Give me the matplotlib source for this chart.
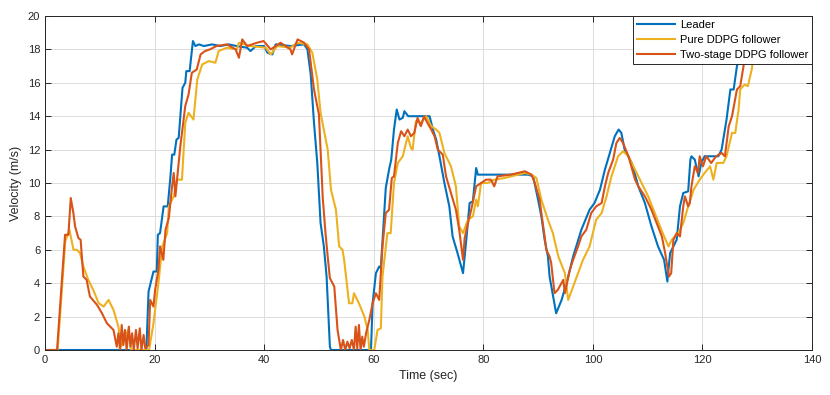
import matplotlib
matplotlib.use("Agg")
import matplotlib.pyplot as plt

# Leader velocity (time in sec, velocity in m/s)
leader_t = [0, 18.5, 18.9, 19.8, 20.4, 20.6, 21.0, 21.65, 22.4, 22.9, 23.2, 23.6, 24.0, 24.4,
            25.1, 25.6, 25.8, 26.4, 27.0, 27.45, 28.1, 29.0, 30.5, 32.0, 33.5, 35.0, 36.9, 37.5,
            38.5, 40.0, 40.6, 41.5, 42.1, 44.8, 47.3, 47.9, 48.5, 49.1, 49.7, 50.3, 50.9, 51.4,
            52.0, 52.2, 59.5, 59.8, 60.4, 61.0, 61.3, 62.2, 62.8, 63.2, 63.7, 64.2, 64.7, 65.3,
            65.6, 66.3, 68.6, 70.2, 70.8, 71.4, 72.0, 72.9, 73.8, 74.4, 75.3, 76.3, 76.9, 77.5,
            78.1, 78.7, 79.0, 83.9, 88.2, 89.1, 90.0, 90.6, 91.2, 91.8, 92.1, 93.3, 94.3, 95.5,
            96.4, 97.9, 99.4, 100.3, 101.3, 102.2, 103.1, 104.0, 104.7, 105.2, 105.8, 107.1,
            108.3, 109.5, 110.7, 111.9, 113.0, 113.6, 114.1, 115.3, 115.9, 116.5, 117.4, 117.8,
            118.0, 118.6, 119.3, 119.8, 120.4, 122.9, 123.5, 124.4, 125.1, 125.7, 126.3, 126.7,
            127.5, 128.2]
leader_v = [0, 0, 3.5, 4.7, 4.7, 6.9, 7.0, 8.6, 8.6, 10.4, 11.7, 11.7, 12.6, 12.7,
            15.7, 16.0, 16.7, 16.7, 18.5, 18.2, 18.3, 18.2, 18.3, 18.2, 18.3, 18.2, 18.1, 17.9,
            18.2, 18.2, 17.8, 17.7, 18.3, 18.2, 18.3, 18.0, 16.5, 13.6, 11.2, 7.6, 6.2, 4.4,
            0.2, 0, 0, 2.8, 4.6, 5.0, 4.9, 9.7, 10.8, 11.4, 13.2, 14.4, 13.8, 13.9,
            14.3, 14.0, 14.0, 14.0, 13.2, 12.6, 11.6, 10.0, 8.6, 6.8, 5.8, 4.6, 6.6, 8.8,
            8.9, 10.9, 10.5, 10.5, 10.5, 10.4, 9.0, 8.0, 6.6, 5.6, 4.4, 2.2, 3.0, 4.4,
            5.6, 7.2, 8.4, 8.8, 9.6, 10.8, 11.8, 12.8, 13.2, 13.0, 12.0, 11.2,
            9.8, 8.8, 7.4, 6.2, 5.4, 4.1, 5.8, 6.6, 8.6, 9.4, 9.5, 11.4,
            11.6, 11.4, 10.4, 11.2, 11.6, 11.6, 12.0, 13.8, 15.6, 15.6, 17.0, 17.4,
            18.8, 20.5]

# Pure DDPG follower
pure_t = [0, 2.3, 3.7, 4.45, 5.2, 5.8, 6.4, 7.0, 7.9, 8.8, 9.8, 10.7, 11.6, 12.5, 13.4, 13.9,
          14.4, 15.2, 15.7, 19.0, 19.2, 19.8, 20.7, 21.4, 22.3, 22.6, 23.5, 24.1, 25.0, 25.6,
          26.2, 27.1, 27.8, 28.7, 29.9, 31.1, 31.7, 33.2, 35.0, 35.4, 37.5, 40.3, 41.2, 42.4,
          44.8, 46.0, 47.9, 48.8, 49.7, 50.3, 50.9, 51.6, 52.2, 53.1, 53.7, 54.3, 54.6, 55.5,
          56.1, 56.4, 57.3, 58.3, 58.9, 59.2, 60.1, 60.7, 61.3, 61.6, 62.5, 63.1, 63.7, 64.4,
          65.3, 66.2, 66.8, 67.1, 67.7, 68.6, 69.6, 70.5, 71.4, 72.0, 72.9, 74.1, 75.0, 75.6,
          76.3, 77.2, 78.1, 78.7, 79.0, 79.6, 80.8, 82.0, 83.9, 87.6, 88.8, 89.7, 90.6, 91.8,
          92.7, 93.7, 94.9, 95.5, 96.4, 97.3, 98.2, 99.4, 100.6, 101.6, 102.5, 103.4, 104.6,
          105.5, 106.5, 107.7, 108.9, 110.1, 111.3, 112.5, 113.8, 114.4, 115.6, 116.5, 117.4,
          118.4, 119.5, 120.4, 121.4, 122.0, 122.6, 123.8, 124.4, 125.4, 126.0, 126.6, 126.9,
          127.7, 128.3, 129.0, 129.8, 130.4]
pure_v = [0, 0, 6.5, 7.2, 6.0, 6.0, 5.8, 5.0, 4.2, 3.6, 2.8, 2.6, 3.0, 2.4, 1.4, 0.2,
          0.6, 1.2, 0, 0, 0.4, 1.6, 4.0, 6.2, 7.0, 8.6, 9.2, 10.2, 10.2, 13.6,
          14.2, 13.8, 16.2, 17.1, 17.3, 17.2, 17.9, 18.1, 18.0, 18.4, 18.2, 18.1, 17.7, 18.2,
          18.1, 18.4, 18.3, 17.8, 16.2, 14.2, 13.2, 12.0, 9.6, 8.4, 6.2, 6.0, 5.4, 2.8,
          2.8, 3.4, 2.8, 2.0, 1.2, 0, 0, 1.2, 1.3, 4.4, 7.0, 7.0, 10.0, 11.2,
          11.6, 12.8, 12.1, 12.0, 13.7, 13.6, 14.0, 13.4, 13.2, 13.0, 11.8, 11.0, 9.8, 7.4,
          7.0, 7.8, 8.0, 9.0, 8.6, 10.0, 10.0, 10.2, 10.3, 10.6, 10.5, 10.3, 9.0, 7.8,
          7.0, 5.6, 4.6, 3.0, 3.8, 4.6, 5.4, 6.2, 7.8, 8.2, 9.2, 10.4, 11.6,
          11.9, 11.6, 10.8, 10.0, 9.2, 8.2, 7.2, 6.2, 6.6, 7.0, 7.6, 8.6,
          9.6, 10.2, 10.6, 11.0, 10.2, 11.2, 11.2, 11.6, 13.0, 13.0, 14.4, 15.6,
          15.9, 15.8, 16.8, 18.8, 20.5]

# Two-stage DDPG follower
two_t = [0, 2.2, 3.66, 4.27, 4.7, 5.18, 5.49, 6.1, 6.5, 7.0, 7.6, 8.2, 9.5, 10.4, 11.3, 12.5,
         13.1, 13.4, 13.7, 14.0, 14.3, 14.6, 14.9, 15.3, 15.6, 15.9, 16.2, 16.6, 16.9, 17.3,
         17.6, 18.0, 18.3, 18.9, 19.2, 19.8, 20.1, 20.7, 21.0, 21.6, 22.0, 22.6, 23.2, 23.5,
         23.8, 24.7, 25.6, 26.2, 26.8, 27.7, 28.4, 29.2, 30.1, 31.3, 33.2, 34.8, 35.4, 36.0,
         36.9, 38.7, 39.9, 41.2, 43.0, 44.8, 45.1, 46.1, 47.3, 48.2, 49.1, 50.0, 50.7, 51.2,
         51.6, 52.0, 52.8, 53.4, 54.0, 54.4, 54.8, 55.2, 55.6, 56.0, 56.4, 56.7, 57.0, 57.3,
         57.6, 57.9, 58.2, 58.6, 59.2, 59.8, 60.4, 61.0, 61.3, 61.6, 62.2, 62.8, 63.3, 63.7,
         64.4, 65.0, 65.6, 66.2, 66.8, 67.4, 68.0, 68.6, 69.2, 69.8, 70.5, 71.1, 71.7, 72.6,
         73.2, 74.1, 75.0, 75.6, 76.3, 76.6, 77.2, 77.8, 78.7, 79.6, 80.5, 81.4, 82.0, 82.6,
         85.0, 87.6, 88.8, 89.4, 90.3, 90.6, 91.2, 91.5, 92.1, 92.4, 93.0, 93.6, 94.6, 94.9,
         95.8, 96.4, 97.3, 97.9, 98.8, 99.7, 100.6, 101.6, 102.2, 102.8, 103.7, 104.3, 104.9,
         105.5, 106.5, 107.7, 108.3, 109.5, 110.7, 111.9, 112.6, 113.2, 113.9, 114.3, 114.7,
         115.3, 115.9, 116.5, 116.8, 117.4, 117.7, 118.0, 118.4, 118.6, 119.2, 119.5, 120.1,
         120.7, 121.6, 122.5, 123.5, 124.1, 124.8, 125.4, 126.3, 126.9, 127.5, 128.3, 129.0]
two_v = [0, 0, 6.9, 6.9, 9.1, 8.2, 7.4, 6.7, 6.6, 4.4, 4.2, 3.2, 2.7, 2.2, 1.6, 1.2,
         0.2, 1.0, 0, 1.5, 0.3, 1.2, 0, 1.4, 0.2, 1.0, 0, 1.2, 0.1, 1.3,
         0, 0.9, 0.1, 0.3, 3.0, 2.6, 3.6, 4.8, 6.2, 5.4, 7.2, 7.9, 9.8, 10.6,
         9.2, 12.2, 14.6, 15.3, 16.6, 16.8, 17.7, 17.9, 18.0, 18.2, 18.3, 18.0, 17.5, 18.6,
         18.2, 18.4, 18.5, 18.0, 18.4, 18.0, 17.7, 18.6, 18.4, 18.0, 15.6, 14.1, 9.1, 7.0,
         5.6, 4.3, 3.8, 1.2, 0, 0.6, 0, 0.5, 0.1, 0.6, 0, 1.4, 0.1, 1.5,
         0, 0.8, 0.2, 1.0, 1.8, 2.8, 3.4, 3.0, 4.6, 6.2, 8.2, 8.4, 10.3, 10.4,
         12.4, 13.1, 12.8, 13.2, 12.8, 13.0, 13.9, 13.4, 14.0, 13.6, 13.2, 12.8, 12.0, 11.7,
         10.4, 9.4, 8.4, 7.2, 5.4, 6.7, 7.6, 8.4, 9.8, 10.0, 10.2, 10.2, 9.8, 10.4,
         10.5, 10.7, 10.5, 10.0, 9.0, 8.2, 6.8, 6.0, 5.6, 5.2, 3.4, 3.6, 4.2, 3.4,
         4.8, 5.4, 6.2, 6.8, 7.2, 8.2, 8.6, 8.8, 9.8, 10.6, 11.4, 12.4, 12.7,
         12.4, 11.6, 10.2, 9.8, 9.2, 8.4, 7.4, 6.8, 5.8, 4.4, 4.6, 6.6,
         7.0, 6.8, 8.6, 9.2, 8.6, 8.8, 9.8, 10.6, 11.0, 10.6, 11.6, 11.0,
         11.6, 11.2, 11.6, 11.8, 11.6, 13.4, 14.0, 15.6, 15.8, 17.0, 18.6, 20.5]

labels = ["Leader", "Pure DDPG follower", "Two-stage DDPG follower"]
colors = ["#0072BD", "#EDB120", "#D95319"]

plt.rcParams["font.family"] = "Liberation Sans"
ax_col = "#262626"

fig = plt.figure(figsize=(8.3, 3.95), dpi=100)
ax = fig.add_axes([45/830, 1 - 350/395, 767/830, 334/395])

ax.plot(leader_t, leader_v, color=colors[0], lw=1.5, label=labels[0])
ax.plot(pure_t, pure_v, color=colors[1], lw=1.5, label=labels[1])
ax.plot(two_t, two_v, color=colors[2], lw=1.5, label=labels[2])

ax.set_xlim(0, 140)
ax.set_ylim(0, 20)
ax.set_xticks(range(0, 141, 20))
ax.set_yticks(range(0, 21, 2))
ax.grid(True, color="#dcdcdc", lw=0.7)
ax.set_axisbelow(True)
ax.tick_params(direction="in", length=4, width=0.7, colors=ax_col, labelsize=8,
               top=True, right=True, labelcolor=ax_col)
for s in ax.spines.values():
    s.set_color(ax_col)
    s.set_linewidth(0.7)

ax.set_xlabel("Time (sec)", fontsize=9, color=ax_col)
ax.set_ylabel("Velocity (m/s)", fontsize=9, color=ax_col)

leg = ax.legend(loc="upper right", fontsize=8, handlelength=3.4, fancybox=False,
                framealpha=1, edgecolor=ax_col, borderaxespad=0, borderpad=0.35,
                labelspacing=0.45, handletextpad=0.45)
leg.get_frame().set_linewidth(0.7)

fig.savefig("out.png", dpi=100)
